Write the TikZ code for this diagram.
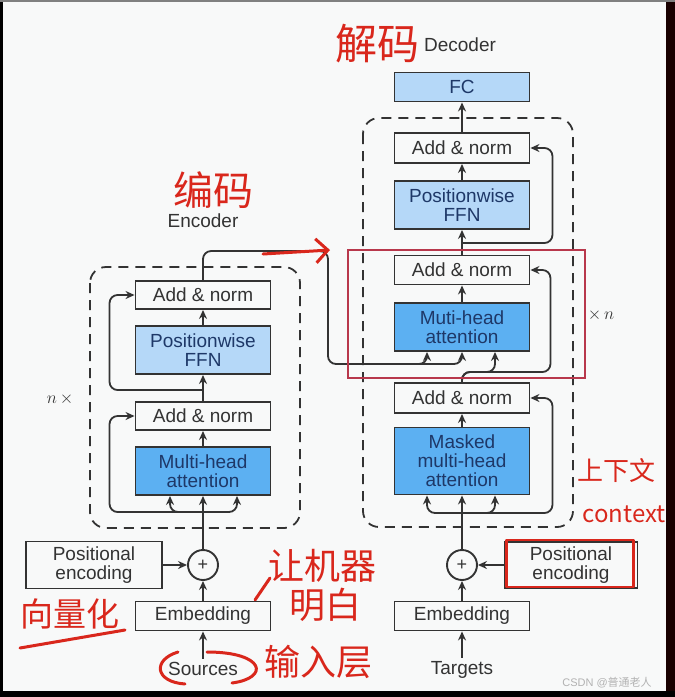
\documentclass[tikz,border=0pt]{standalone}
\usepackage{fontspec}
\setmainfont{Liberation Sans}
\newfontfamily\cjk{Noto Sans CJK SC}
\usetikzlibrary{arrows.meta,calc,positioning}
\definecolor{ffnblue}{HTML}{B5D8F8}
\definecolor{mhblue}{HTML}{5CB0F2}
\definecolor{boxline}{HTML}{333333}
\definecolor{txtgray}{HTML}{333333}
\definecolor{txtnavy}{HTML}{1E3868}
\definecolor{pen}{HTML}{D9271C}
\definecolor{markbox}{HTML}{B8384C}
\definecolor{paper}{HTML}{F8F9F9}

\begin{document}
\begin{tikzpicture}[x=1pt, y=-1pt,
    box/.style={draw=boxline, line width=1.9pt, minimum width=135pt, minimum height=28pt, align=center, text=txtgray, inner sep=1pt, font=\fontsize{19}{19}\selectfont},
    ffn/.style={box, fill=ffnblue, text=txtnavy, minimum height=48pt},
    mh/.style={box, fill=mhblue, text=txtnavy, minimum height=48pt},
    plus/.style={circle, draw=boxline, line width=1.9pt, minimum size=30pt, inner sep=0pt, text=txtgray, font=\fontsize{18}{18}\selectfont},
    title/.style={text=txtgray, font=\fontsize{19}{19}\selectfont},
    arrow/.style={-{Stealth[length=9pt,width=8pt]}, line width=1.8pt, draw=boxline, rounded corners=8pt},
    layer/.style={draw=boxline, line width=1.8pt, dash pattern=on 10pt off 7pt, rounded corners=16pt},
    hand/.style={text=pen, inner sep=0pt, font=\cjk\fontsize{36}{36}\selectfont},
    ink/.style={draw=pen, line width=3pt, line cap=round, line join=round}
]
    % page and screen frame
    \fill[paper] (0,0) rectangle (675,697);
    \useasboundingbox (0,0) rectangle (675,697);
    \fill[black] (0,0) rectangle (3,697);
    \fill[black!90!red] (666,0) rectangle (675,697);
    \fill[black] (0,691) rectangle (675,697);
    \fill[gray] (0,0) rectangle (675,1.5);

    % Dashed layer boxes
    \draw[layer] (90,267) rectangle (300,528);
    \draw[layer] (363,118) rectangle (573,527);

    % Encoder
    \node[title] (enc_title) at (203,221) {Encoder};
    \node[box] (enc_an2) at (203,295) {Add \& norm};
    \node[ffn] (enc_ffn) at (203,350) {Positionwise\\FFN};
    \node[box] (enc_an1) at (203,416) {Add \& norm};
    \node[mh] (enc_mh) at (203,471) {Multi-head\\attention};
    \node[plus] (enc_add) at (203,565) {+};
    \node[box, minimum width=136pt, minimum height=47pt] (enc_pe) at (94,565) {Positional\\encoding};
    \node[box, minimum height=29pt] (enc_emb) at (203,616) {Embedding};
    \node[title] (enc_src) at (203,669) {Sources};
    \node[text=txtgray, font=\fontsize{19}{19}\selectfont] (enc_rep) at (60,399) {$n\,\times$};

    % Decoder
    \node[title] (dec_title) at (460,45) {Decoder};
    \node[ffn, minimum height=29pt] (dec_fc) at (462,87) {FC};
    \node[box, minimum height=30pt] (dec_an3) at (462,148) {Add \& norm};
    \node[ffn] (dec_ffn) at (462,205) {Positionwise\\FFN};
    \node[box, minimum height=29pt] (dec_an2) at (462,270) {Add \& norm};
    \node[mh] (dec_mh) at (462,327) {Muti-head\\attention};
    \node[box, minimum height=30pt] (dec_an1) at (462,398) {Add \& norm};
    \node[mh, minimum height=67pt] (dec_mmh) at (462,461) {Masked\\multi-head\\attention};
    \node[plus] (dec_add) at (462,565) {+};
    \node[box, minimum width=133pt, minimum height=46pt] (dec_pe) at (571,565) {Positional\\encoding};
    \node[box, minimum height=29pt] (dec_emb) at (462,616) {Embedding};
    \node[title] (dec_tgt) at (462,670) {Targets};
    \node[text=txtgray, font=\fontsize{19}{19}\selectfont] (dec_rep) at (601,315) {$\times\, n$};

    % Encoder arrows
    \draw[arrow] (enc_src) -- (enc_emb);
    \draw[arrow] (enc_emb) -- (enc_add);
    \draw[arrow] (enc_pe) -- (enc_add);
    \draw[arrow] (enc_add) -- (enc_mh);
    \draw[arrow] (enc_mh) -- (enc_an1);
    \draw[arrow] (enc_an1) -- (enc_ffn);
    \draw[arrow] (enc_ffn) -- (enc_an2);
    \coordinate (enc_b1) at (203,390);
    \coordinate (enc_b0) at (203,512);
    \draw[arrow] (enc_b1) -| ([xshift=-25pt]enc_an2.west) -- (enc_an2.west);
    \draw[arrow] (enc_b0) -| ([xshift=-25pt]enc_an1.west) -- (enc_an1.west);
    \draw[arrow] (enc_b0) -| ([xshift=-33pt]enc_mh.south);
    \draw[arrow] (enc_b0) -| ([xshift=34pt]enc_mh.south);

    % Encoder output into decoder attention
    \coordinate (enc_out) at (328,364);
    \draw[arrow] (enc_an2.north) -- ++(0,-29) -| (enc_out) -| ([xshift=-35pt]dec_mh.south);
    \draw[arrow] ([xshift=20pt]enc_out) -| (dec_mh.south);

    % Decoder arrows
    \draw[arrow] (dec_tgt) -- (dec_emb);
    \draw[arrow] (dec_emb) -- (dec_add);
    \draw[arrow] (dec_pe) -- (dec_add);
    \draw[arrow] (dec_add) -- (dec_mmh);
    \draw[arrow] (dec_mmh) -- (dec_an1);
    \coordinate (dec_b0) at (462,513);
    \draw[arrow] (dec_b0) -| ([xshift=-35pt]dec_mmh.south);
    \draw[arrow] (dec_b0) -| ([xshift=33pt]dec_mmh.south);
    \draw[arrow] (dec_b0) -| ([xshift=22pt]dec_an1.east) -- (dec_an1.east);
    \coordinate (dec_b1) at (462,372);
    \draw[arrow] (dec_an1.north) -- (dec_b1) -| ([xshift=33pt]dec_mh.south);
    \draw[arrow] (dec_an1.north) -- (dec_b1) -| ([xshift=20pt]dec_an2.east) -- (dec_an2.east);
    \draw[arrow] (dec_mh) -- (dec_an2);
    \draw[arrow] (dec_an2) -- (dec_ffn);
    \draw[arrow] (dec_ffn) -- (dec_an3);
    \draw[arrow] (dec_an3) -- (dec_fc);
    \coordinate (dec_b2) at (462,243);
    \draw[arrow] (dec_b2) -| ([xshift=22pt]dec_an3.east) -- (dec_an3.east);

    % Red box round the cross attention
    \draw[markbox, line width=2pt] (348,250) rectangle (585,378);

    % Handwritten notes
    \node[hand, font=\cjk\fontsize{40}{40}\selectfont] (enc_note) at (213,190) {编码};
    \node[hand, font=\cjk\fontsize{42}{42}\selectfont] (dec_note) at (377,44) {解码};
    \node[hand, font=\cjk\fontsize{33}{33}\selectfont] (emb_note) at (70,614) {向量化};
    \draw[ink] (20,648) -- (125,630);
    \node[hand] (why_note) at (322,566) {让机器};
    \node[hand] (why_note2) at (325,605) {明白};
    \draw[ink] (255,600) -- (270,578);
    \node[hand] (in_note) at (318,662) {输入层};
    \node[hand, font=\cjk\fontsize{26}{26}\selectfont] (ctx_note) at (616,471) {上下文};
    \node[hand, font=\cjk\fontsize{24}{24}\selectfont] (ctx_note2) at (624,514) {context};
    \draw[ink, -{Straight Barb[length=12pt,width=24pt]}] (263,254) -- (330,250);
    \draw[ink, line width=2.5pt] ([shift={(3,-1)}]dec_pe.north west) rectangle ([shift={(-5,-2)}]dec_pe.south east);
    \draw[ink] (178,652) .. controls (152,660) and (155,682) .. (185,684);
    \draw[ink] (207,652) .. controls (265,652) and (270,678) .. (232,683);

    % Watermark
    \node[text=gray!60, font=\fontsize{11}{11}\selectfont] (mark) at (607,683) {CSDN @{\cjk 普通老人}};
\end{tikzpicture}
\end{document}
